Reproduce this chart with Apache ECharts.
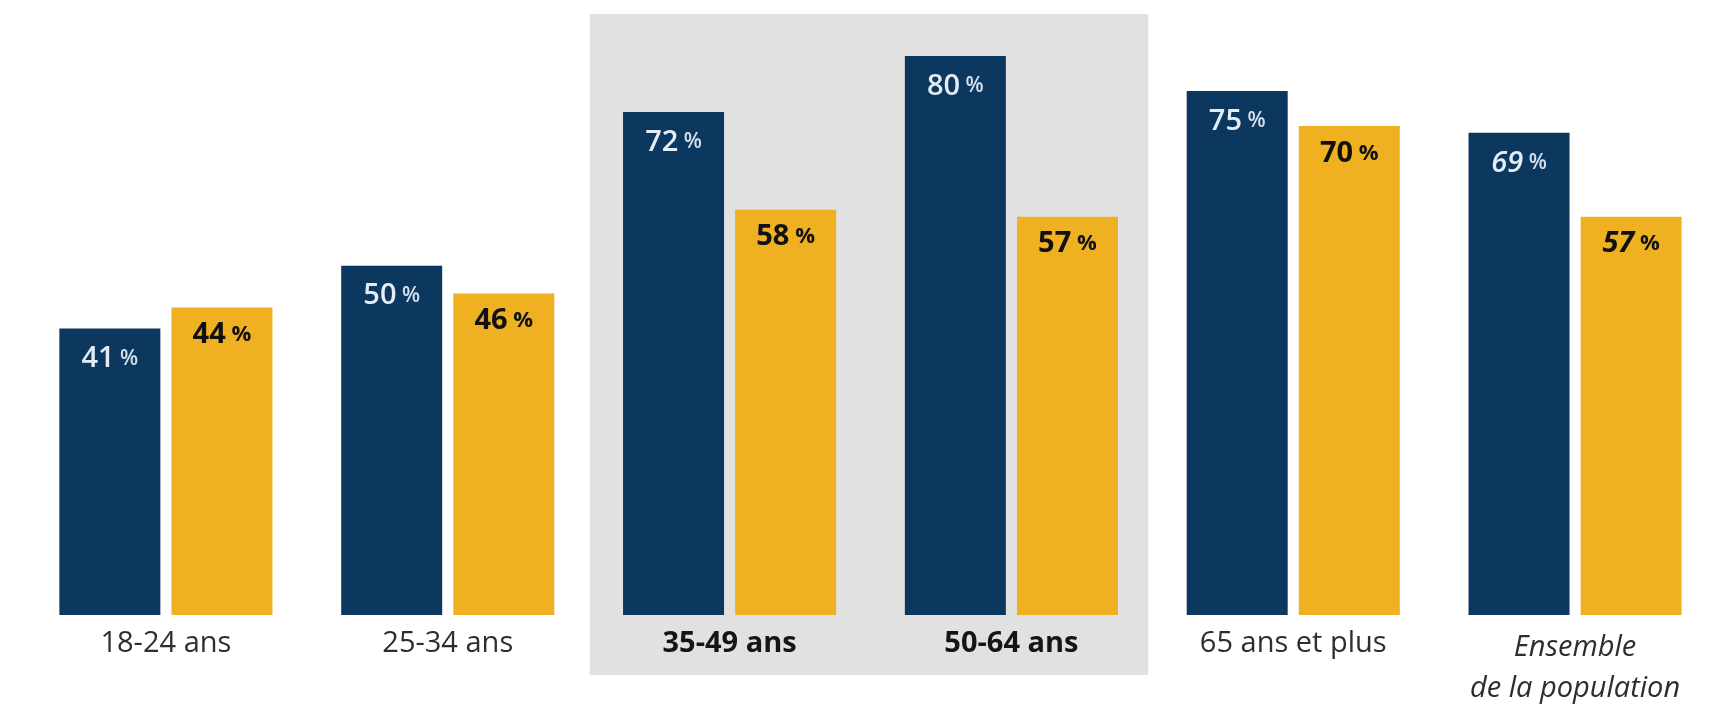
<!DOCTYPE html>
<html><head><meta charset="utf-8">
<script src="https://cdn.jsdelivr.net/npm/echarts@6/dist/echarts.min.js"></script>
<style>html,body{margin:0;padding:0;background:#fff}#c{width:1720px;height:709px}</style>
</head><body><div id="c"></div>
<script>
const categories = ['18-24 ans', '25-34 ans', '35-49 ans', '50-64 ans', '65 ans et plus', 'Ensemble\nde la population'];
const navyValues = [41, 50, 72, 80, 75, 69];
const yellowValues = [44, 46, 58, 57, 70, 57];
const highlighted = [2, 3];
const italicIndex = 5;

const FONT = '"Open Sans", "Noto Sans", sans-serif';
const NAVY = '#0c375f';
const YELLOW = '#efb022';

function valLabel(prefix) {
  return function (p) {
    const s = p.dataIndex === italicIndex ? 'i' : '';
    return '{' + prefix + 'v' + s + '|' + p.value + '}{' + prefix + 'p' + s + '| %}';
  };
}

const chart = echarts.init(document.getElementById('c'), null, {renderer: 'canvas'});
chart.setOption({
  animation: false,
  backgroundColor: '#ffffff',
  grid: {left: 25, right: 4, top: 56, bottom: 92, containLabel: false},
  xAxis: {
    type: 'category',
    data: categories,
    axisLine: {show: false},
    axisTick: {show: false},
    axisLabel: {
      margin: 12,
      interval: 0,
      fontFamily: FONT,
      fontSize: 29,
      color: '#2e2e2e',
      lineHeight: 34,
      formatter: function (v, i) {
        if (highlighted.indexOf(i) >= 0) return '{b|' + v + '}';
        if (i === italicIndex) return v.split('\n').map(function (t) { return '{i|' + t + '}'; }).join('\n');
        return '{n|' + v + '}';
      },
      rich: {
        n: {fontFamily: FONT, fontSize: 29, color: '#2e2e2e', lineHeight: 34},
        b: {fontFamily: FONT, fontSize: 29, fontWeight: 'bold', color: '#151515', lineHeight: 34},
        i: {fontFamily: FONT, fontSize: 29, fontStyle: 'italic', color: '#2e2e2e', lineHeight: 41}
      }
    }
  },
  yAxis: {
    type: 'value', min: 0, max: 80,
    show: false,
    splitLine: {show: false}
  },
  series: [
    {
      type: 'bar', name: 'navy', data: navyValues, barWidth: 101, barGap: '11%',
      itemStyle: {color: NAVY},
      label: {
        show: true, position: 'insideTop', distance: 16,
        formatter: valLabel('n'),
        rich: {
          nv: {fontFamily: FONT, fontSize: 29, fontWeight: 600, color: '#e4ecf5'},
          np: {fontFamily: FONT, fontSize: 21, fontWeight: 600, color: '#d6e0eb'},
          nvi: {fontFamily: FONT, fontSize: 29, fontWeight: 600, fontStyle: 'italic', color: '#e4ecf5'},
          npi: {fontFamily: FONT, fontSize: 21, fontWeight: 600, color: '#d6e0eb'}
        }
      }
    },
    {
      type: 'bar', name: 'yellow', data: yellowValues, barWidth: 101,
      itemStyle: {color: YELLOW},
      label: {
        show: true, position: 'insideTop', distance: 13,
        formatter: valLabel('y'),
        rich: {
          yv: {fontFamily: FONT, fontSize: 29, fontWeight: 'bold', color: '#111111'},
          yp: {fontFamily: FONT, fontSize: 22, fontWeight: 'bold', color: '#111111'},
          yvi: {fontFamily: FONT, fontSize: 29, fontWeight: 'bold', fontStyle: 'italic', color: '#111111'},
          ypi: {fontFamily: FONT, fontSize: 22, fontWeight: 'bold', color: '#111111'}
        }
      }
    }
  ]
});

// Gray highlight box behind the highlighted categories, computed from the axis
const c0 = chart.convertToPixel({xAxisIndex: 0}, 0);
const c1 = chart.convertToPixel({xAxisIndex: 0}, 1);
const bw = c1 - c0;
const left = chart.convertToPixel({xAxisIndex: 0}, highlighted[0]) - bw / 2 + 1;
const right = chart.convertToPixel({xAxisIndex: 0}, highlighted[highlighted.length - 1]) + bw / 2 - 4;
chart.setOption({
  graphic: [{
    type: 'rect', z: -10, silent: true,
    shape: {x: left, y: 14, width: right - left, height: 661},
    style: {fill: '#e1e1e1'}
  }]
});
</script>
</body></html>
